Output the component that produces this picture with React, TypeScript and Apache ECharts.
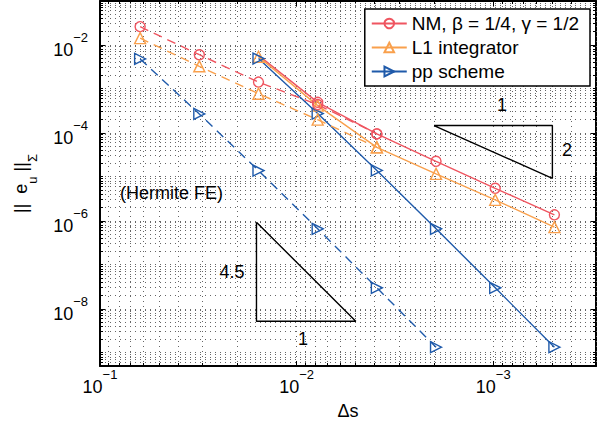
import React, { useEffect, useRef } from "react";
import * as echarts from "echarts";

// Δs values
const dsCoarse = [1 / 16, 1 / 32, 1 / 64, 1 / 128, 1 / 256, 1 / 512];
const dsFine = [1 / 64, 1 / 128, 1 / 256, 1 / 512, 1 / 1024, 1 / 2048];

// error values
const nmSolid = [5.8e-3, 4.96e-4, 9.5e-5, 2.26e-5, 5.5e-6, 1.37e-6];
const nmDashed = [2.61e-2, 6.0e-3, 1.43e-3, 4.4e-4, 9.5e-5];
const l1Solid = [5.4e-3, 4.17e-4, 4.7e-5, 1.17e-5, 3.0e-6, 7.2e-7];
const l1Dashed = [1.43e-2, 3.27e-3, 7.8e-4, 2.0e-4, 4.7e-5];
const ppSolid = [4.9e-3, 2.75e-4, 1.4e-5, 6.6e-7, 3.0e-8, 1.34e-9];
const ppDashed = [4.8e-3, 2.7e-4, 1.39e-5, 6.6e-7, 3.0e-8, 1.34e-9];

const seriesNames = ["NM, β = 1/4, γ = 1/2", "L1 integrator", "pp scheme"];

// slope triangles (data coordinates)
const slope2Tri = [
  [0.002, 1.47e-4],
  [0.0005, 1.47e-4],
  [0.0005, 9.3e-6],
  [0.002, 1.47e-4],
];
const slope45Tri = [
  [0.016, 9.3e-7],
  [0.016, 5.2e-9],
  [0.005, 5.2e-9],
  [0.016, 9.3e-7],
];

// axis ticks
const xMajor = [1e-3, 1e-2, 1e-1];
const yMajor = [1e-8, 1e-6, 1e-4, 1e-2];
const xMin = 3e-4;
const xMax = 0.1;
const yMin = 5e-10;
const yMax = 0.1;
const mantissas = [2, 3, 4, 5, 6, 7, 8, 9];
const xMinor: number[] = [];
[-4, -3, -2].forEach((e) =>
  mantissas.forEach((m) => {
    const v = m * Math.pow(10, e);
    if (v > xMin && v < xMax) xMinor.push(v);
  })
);
const yMinor: number[] = [];
[-10, -9, -8, -7, -6, -5, -4, -3, -2].forEach((e) => {
  const d = Math.pow(10, e);
  if (!yMajor.some((m) => Math.abs(m - d) < d * 1e-6) && d > yMin && d < yMax) yMinor.push(d);
  mantissas.forEach((m) => {
    const v = m * d;
    if (v > yMin && v < yMax) yMinor.push(v);
  });
});

const RED = "#ef5560";
const ORANGE = "#f9a04c";
const BLUE = "#1f5aaa";
const FONT = "'Liberation Sans', Arial, Helvetica, sans-serif";
const GRID_COLOR = "#666666";
const GRID_DASH = [1, 4];

const pair = (xs: number[], ys: number[]) => ys.map((y, i) => [xs[i], y]);
const crisp = (v: number) => Math.round(v - 0.5) + 0.5;

export default function App() {
  const ref = useRef<HTMLDivElement>(null);
  useEffect(() => {
    if (!ref.current) return;
    const chart = echarts.init(ref.current, undefined, { renderer: "svg" });

    const supLabel = (v: number) => {
      const e = Math.round(Math.log10(v));
      return "{b|10}{s|" + (e < 0 ? "\u2212" : "") + Math.abs(e) + "}";
    };
    const richSup = {
      b: { fontSize: 18, fontFamily: FONT, color: "#000", lineHeight: 28, verticalAlign: "bottom" },
      s: { fontSize: 13, fontFamily: FONT, color: "#000", lineHeight: 12, verticalAlign: "top" },
    };

    const lineSeries = (
      name: string,
      data: any[],
      color: string,
      symbol: string,
      size: number,
      dashed: boolean,
      rotate = 0
    ) => ({
      type: "line",
      name,
      data,
      symbol,
      symbolSize: size,
      symbolRotate: rotate,
      showAllSymbol: true,
      z: 5,
      lineStyle: { color, width: 1.4, type: dashed ? [9, 6] : "solid" },
      itemStyle: { color: "rgba(255,255,255,0)", borderColor: color, borderWidth: 1.4 },
      emphasis: { disabled: true },
    });

    const minorX = {
      type: "custom",
      silent: true,
      z: 1,
      data: xMinor.map((v) => [v, 1e-5]),
      renderItem: (params: any, api: any) => {
        const x = crisp(api.coord([api.value(0), 1e-5])[0]);
        const cs = params.coordSys;
        const b = cs.y + cs.height;
        return {
          type: "group",
          children: [
            { type: "line", shape: { x1: x, y1: cs.y, x2: x, y2: b }, style: { stroke: GRID_COLOR, lineWidth: 1, lineDash: GRID_DASH } },
            { type: "line", shape: { x1: x, y1: b, x2: x, y2: b - 3 }, style: { stroke: "#000", lineWidth: 1 } },
            { type: "line", shape: { x1: x, y1: cs.y, x2: x, y2: cs.y + 3 }, style: { stroke: "#000", lineWidth: 1 } },
          ],
        };
      },
    };
    const minorY = {
      type: "custom",
      silent: true,
      z: 1,
      data: yMinor.map((v) => [0.01, v]),
      renderItem: (params: any, api: any) => {
        const y = crisp(api.coord([0.01, api.value(1)])[1]);
        const cs = params.coordSys;
        const r = cs.x + cs.width;
        return {
          type: "group",
          children: [
            { type: "line", shape: { x1: cs.x, y1: y, x2: r, y2: y }, style: { stroke: GRID_COLOR, lineWidth: 1, lineDash: GRID_DASH } },
            { type: "line", shape: { x1: cs.x, y1: y, x2: cs.x + 3, y2: y }, style: { stroke: "#000", lineWidth: 1 } },
            { type: "line", shape: { x1: r, y1: y, x2: r - 3, y2: y }, style: { stroke: "#000", lineWidth: 1 } },
          ],
        };
      },
    };

    const axisCommon = {
      type: "log",
      logBase: 10,
      axisLine: { show: true, onZero: false, lineStyle: { color: "#000", width: 2 } },
    };

    const nmSolidData: any[] = pair(dsFine, nmSolid);
    nmSolidData[0] = { value: nmSolidData[0], symbol: "none" };

    const option: any = {
      animation: false,
      grid: { left: 100, top: 1, right: 4, bottom: 59, containLabel: false, outerBoundsMode: "none" },
      legend: {
        data: seriesNames,
        orient: "vertical",
        right: 10,
        top: 9,
        backgroundColor: "#fff",
        borderColor: "#000",
        borderWidth: 1.5,
        borderRadius: 0,
        padding: [5, 11, 5, 6],
        itemWidth: 35,
        itemHeight: 12,
        itemGap: 5,
        selectedMode: false,
        textStyle: { fontSize: 19, fontFamily: FONT, color: "#000" },
      },
      xAxis: [
        {
          ...axisCommon,
          min: xMin,
          max: xMax,
          inverse: true,
          name: "Δs",
          nameLocation: "middle",
          nameGap: 36,
          nameTextStyle: { fontSize: 18, fontFamily: FONT, color: "#000" },
          axisTick: { show: true, inside: true, length: 5, customValues: xMajor, lineStyle: { color: "#000", width: 1 } },
          axisLabel: { show: true, margin: 2, customValues: xMajor, formatter: supLabel, rich: richSup },
          splitLine: { show: true, lineStyle: { color: GRID_COLOR, width: 1, type: GRID_DASH } },
        },
        {
          ...axisCommon,
          min: xMin,
          max: xMax,
          inverse: true,
          position: "top",
          axisTick: { show: true, inside: true, length: 5, customValues: xMajor, lineStyle: { color: "#000", width: 1 } },
          axisLabel: { show: false },
          splitLine: { show: false },
        },
      ],
      yAxis: [
        {
          ...axisCommon,
          min: yMin,
          max: yMax,
          name: "{n|||  e}{u|u}{n| ||}{u|Σ}",
          nameLocation: "middle",
          nameRotate: 90,
          nameGap: 48,
          nameTextStyle: {
            rich: {
              n: { fontSize: 18, fontFamily: FONT, color: "#000", lineHeight: 20, verticalAlign: "top" },
              u: { fontSize: 13, fontFamily: FONT, color: "#000", lineHeight: 40, verticalAlign: "middle" },
            },
          },
          axisTick: { show: true, inside: true, length: 5, customValues: yMajor, lineStyle: { color: "#000", width: 1 } },
          axisLabel: { show: true, margin: 12, customValues: yMajor, formatter: supLabel, rich: richSup },
          splitLine: { show: true, lineStyle: { color: GRID_COLOR, width: 1, type: GRID_DASH } },
        },
        {
          ...axisCommon,
          min: yMin,
          max: yMax,
          position: "right",
          axisTick: { show: true, inside: true, length: 5, customValues: yMajor, lineStyle: { color: "#000", width: 1 } },
          axisLabel: { show: false },
          splitLine: { show: false },
        },
      ],
      series: [
        minorX,
        minorY,
        lineSeries(seriesNames[0], nmSolidData, RED, "circle", 10, false),
        lineSeries(seriesNames[1], pair(dsFine, l1Solid), ORANGE, "triangle", 11, false),
        lineSeries(seriesNames[2], pair(dsFine, ppSolid), BLUE, "triangle", 11, false, -90),
        lineSeries(seriesNames[0], pair(dsCoarse, nmDashed), RED, "circle", 10, true),
        lineSeries(seriesNames[1], pair(dsCoarse, l1Dashed), ORANGE, "triangle", 11, true),
        lineSeries(seriesNames[2], pair(dsCoarse, ppDashed), BLUE, "triangle", 11, true, -90),
        {
          type: "line",
          name: "slope2",
          data: slope2Tri,
          symbol: "none",
          z: 4,
          lineStyle: { color: "#000", width: 1.4 },
          emphasis: { disabled: true },
        },
        {
          type: "line",
          name: "slope45",
          data: slope45Tri,
          symbol: "none",
          z: 4,
          lineStyle: { color: "#000", width: 1.4 },
          emphasis: { disabled: true },
        },
      ],
      graphic: [
        { type: "text", left: 120, top: 184, style: { text: "(Hermite FE)", fontSize: 18, fontFamily: FONT, fill: "#000" }, z: 10 },
        { type: "text", x: 502, y: 105, style: { text: "1", fontSize: 18, fontFamily: FONT, fill: "#000", align: "center", verticalAlign: "middle" }, z: 10 },
        { type: "text", x: 567, y: 150, style: { text: "2", fontSize: 18, fontFamily: FONT, fill: "#000", align: "center", verticalAlign: "middle" }, z: 10 },
        { type: "text", x: 232, y: 272, style: { text: "4.5", fontSize: 18, fontFamily: FONT, fill: "#000", align: "center", verticalAlign: "middle" }, z: 10 },
        { type: "text", x: 303, y: 339, style: { text: "1", fontSize: 18, fontFamily: FONT, fill: "#000", align: "center", verticalAlign: "middle" }, z: 10 },
      ],
    };

    chart.setOption(option);
    return () => chart.dispose();
  }, []);

  return <div ref={ref} style={{ width: 600, height: 425, position: "absolute", left: 0, top: 0 }} />;
}
